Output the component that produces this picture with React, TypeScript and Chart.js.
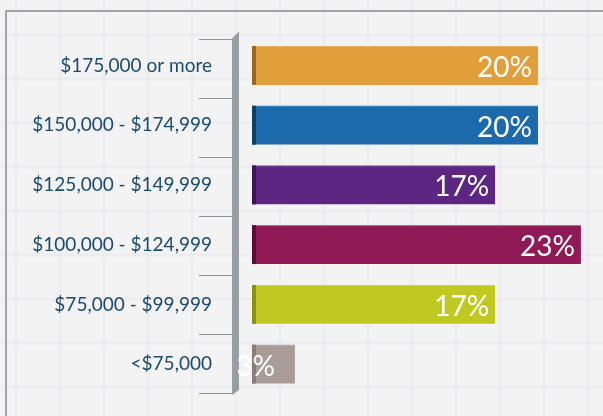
import React, { useEffect, useRef } from "react";
import { Chart, registerables } from "chart.js";

Chart.register(...registerables);

const categories = [
  "$175,000 or more",
  "$150,000 - $174,999",
  "$125,000 - $149,999",
  "$100,000 - $124,999",
  "$75,000 - $99,999",
  "<$75,000",
];
const values = [20, 20, 17, 23, 17, 3];
const barColors = ["#e09f3a", "#1c6aab", "#5c2682", "#8f1a55", "#c0c921", "#a99c97"];
const edgeColors = ["#97671f", "#0e3e68", "#3c145a", "#5c0c36", "#8a9012", "#8a7d78"];
const valueLabels = values.map((v) => v + "%");

const decor = {
  id: "decor",
  beforeDraw(chart: any) {
    const ctx = chart.ctx;
    const w = chart.width;
    const h = chart.height;
    ctx.save();
    ctx.fillStyle = "#f3f3f4";
    ctx.fillRect(0, 0, w, h);
    ctx.strokeStyle = "rgba(216,216,232,0.2)";
    ctx.lineWidth = 3;
    for (let x = 16; x < w; x += 44) {
      ctx.beginPath();
      ctx.moveTo(x, 0);
      ctx.lineTo(x, h);
      ctx.stroke();
    }
    for (let y = 35; y < h; y += 44) {
      ctx.beginPath();
      ctx.moveTo(0, y);
      ctx.lineTo(w, y);
      ctx.stroke();
    }
    ctx.strokeStyle = "#9fa5ab";
    ctx.lineWidth = 2;
    ctx.beginPath();
    ctx.moveTo(6, h);
    ctx.lineTo(6, 11);
    ctx.lineTo(w, 11);
    ctx.stroke();
    ctx.restore();
  },
  beforeDatasetsDraw(chart: any) {
    const ctx = chart.ctx;
    const area = chart.chartArea;
    const n = categories.length;
    const t0 = area.top + 3;
    const t1 = area.bottom - 1;
    const step = (t1 - t0) / n;
    const axL = area.left - 20;
    const axR = area.left - 13;
    ctx.save();
    ctx.strokeStyle = "#8f959b";
    ctx.lineWidth = 1;
    for (let i = 0; i <= n; i++) {
      const y = Math.round(t0 + i * step) + 0.5;
      ctx.beginPath();
      ctx.moveTo(area.left - 53, y);
      ctx.lineTo(axL, y);
      ctx.stroke();
    }
    ctx.fillStyle = "#979da3";
    ctx.beginPath();
    ctx.moveTo(axL, area.top + 3);
    ctx.lineTo(axR, area.top - 4);
    ctx.lineTo(axR, area.bottom - 4);
    ctx.lineTo(axL, area.bottom + 1);
    ctx.closePath();
    ctx.fill();
    ctx.restore();
  },
  afterDatasetsDraw(chart: any) {
    const ctx = chart.ctx;
    const meta = chart.getDatasetMeta(0);
    ctx.save();
    meta.data.forEach((bar: any, i: number) => {
      const props = bar.getProps(["x", "y", "base", "height"], true);
      const top = props.y - props.height / 2;
      ctx.fillStyle = edgeColors[i];
      ctx.fillRect(props.base, top, 4, props.height);
      ctx.fillStyle = "rgba(255,255,255,0.18)";
      ctx.fillRect(props.base + 4, top, props.x - props.base - 4, 1);
      ctx.font = "28px Lato";
      ctx.fillStyle = "#ffffff";
      ctx.textAlign = "right";
      ctx.textBaseline = "alphabetic";
      const tw = ctx.measureText(valueLabels[i]).width;
      let tx = props.x - 6;
      if (tw > props.x - props.base - 10) tx = props.base + 23;
      ctx.fillText(valueLabels[i], tx, props.y + 11.5);
    });
    ctx.restore();
  },
};

export default function App() {
  const ref = useRef<HTMLCanvasElement | null>(null);
  useEffect(() => {
    if (!ref.current) return;
    const chart = new Chart(ref.current, {
      type: "bar",
      data: {
        labels: categories,
        datasets: [
          {
            data: values,
            backgroundColor: barColors,
            borderWidth: 0,
            barPercentage: 0.65,
            categoryPercentage: 1,
          },
        ],
      },
      options: {
        indexAxis: "y",
        animation: false,
        responsive: false,
        maintainAspectRatio: false,
        layout: { padding: { top: 35.6, bottom: 22, left: 0, right: 7.8 } },
        plugins: { legend: { display: false }, tooltip: { enabled: false } },
        scales: {
          x: { display: false, min: 0, max: 24 },
          y: {
            afterFit: (s: any) => {
              s.width = 252;
              s.paddingTop = 0;
              s.paddingBottom = 0;
            },
            border: { display: false },
            grid: { display: false, drawTicks: false },
            ticks: {
              padding: 40,
              color: "#1a4b6d",
              font: { family: "Lato", size: 19 },
            },
          },
        },
      },
      plugins: [decor],
    });
    return () => chart.destroy();
  }, []);
  return (
    <div style={{ position: "absolute", left: 0, top: 0, width: 603, height: 416 }}>
      <canvas ref={ref} width={603} height={416} style={{ display: "block" }} />
    </div>
  );
}
